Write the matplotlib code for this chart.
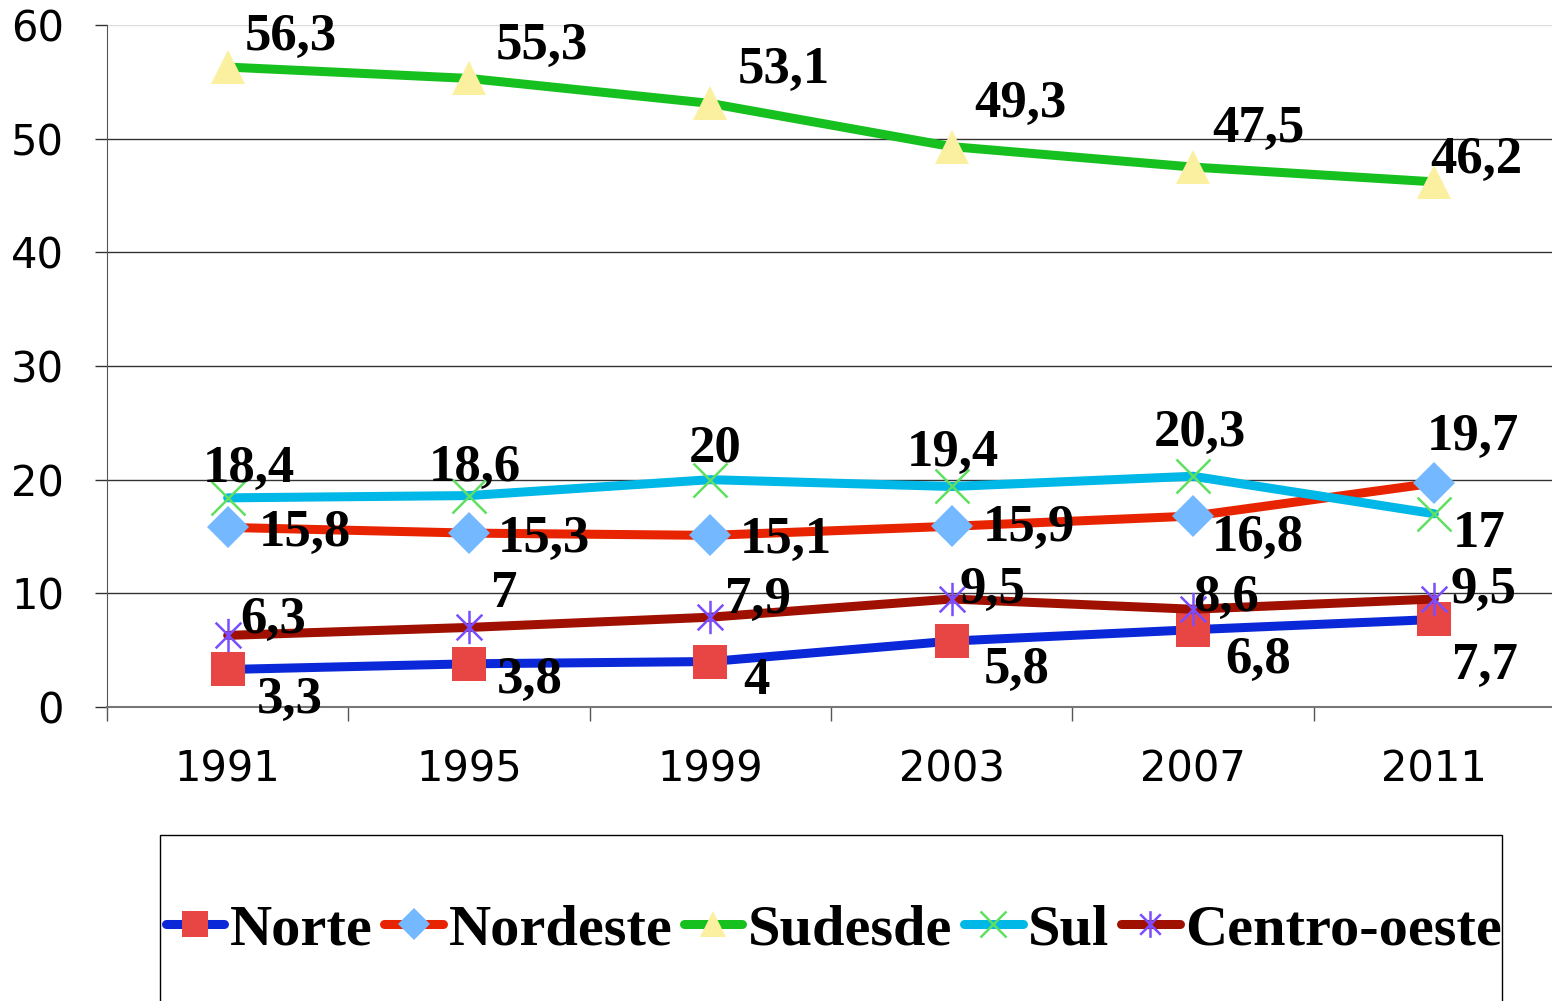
import matplotlib
matplotlib.use("Agg")
import matplotlib.pyplot as plt
from matplotlib.path import Path
from matplotlib.patches import Rectangle
import numpy as np

years = ["1991", "1995", "1999", "2003", "2007", "2011"]
series_names = ["Norte", "Nordeste", "Sudesde", "Sul", "Centro-oeste"]

norte = [3.3, 3.8, 4, 5.8, 6.8, 7.7]
nordeste = [15.8, 15.3, 15.1, 15.9, 16.8, 19.7]
sudeste = [56.3, 55.3, 53.1, 49.3, 47.5, 46.2]
sul = [18.4, 18.6, 20, 19.4, 20.3, 17]
centro_oeste = [6.3, 7, 7.9, 9.5, 8.6, 9.5]

# Excel-style star: an X with a vertical bar through it
star = Path([(-1, -1), (1, 1), (-1, 1), (1, -1), (0, -1.3), (0, 1.3)],
            [Path.MOVETO, Path.LINETO, Path.MOVETO, Path.LINETO, Path.MOVETO, Path.LINETO])

styles = [
    dict(color='#0A28D8', marker='s', mfc='#E84644', mec='#E84644', ms=24, mew=0),
    dict(color='#E82400', marker='D', mfc='#74B9FF', mec='#74B9FF', ms=21, mew=0),
    dict(color='#16C01E', marker='^', mfc='#FAF0A0', mec='#FAF0A0', ms=24, mew=0),
    dict(color='#00B8E8', marker='x', mfc='#60E060', mec='#60E060', ms=24, mew=1.8),
    dict(color='#A01000', marker=star, mfc='#7B4DFF', mec='#7B4DFF', ms=24, mew=1.8),
]

# label offsets in pixels (dx, dy up) for each point
label_offsets = [
    [(62, -30), (61, -16), (46, -19), (65, -29), (65, -30), (51, -47)],
    [(77, -6), (75, -6), (76, -5), (77, -2), (65, -22), (39, 46)],
    [(63, 30), (73, 32), (73, 33), (69, 43), (65, 38), (42, 22)],
    [(21, 29), (6, 28), (5, 31), (1, 34), (7, 43), (45, -20)],
    [(45, 15), (35, 33), (48, 17), (41, 9), (33, 11), (49, 9)],
]


def fmt(v):
    s = ('%g' % v)
    return s.replace('.', ',')


fig = plt.figure(figsize=(15.52, 10.01), dpi=100)
ax = fig.add_axes([107 / 1552, 1 - 707 / 1001, 1448 / 1552, 682 / 1001])

x = np.arange(len(years))
data = [norte, nordeste, sudeste, sul, centro_oeste]
handles = []
for i, (vals, st) in enumerate(zip(data, styles)):
    ln, = ax.plot(x, vals, lw=6.5, solid_capstyle='round', zorder=3 + i, label=series_names[i], **st)
    handles.append(ln)
    for xi, v, (dx, dy) in zip(x, vals, label_offsets[i]):
        ax.annotate(fmt(v), (xi, v), xytext=(dx, dy), textcoords='offset pixels',
                    ha='center', va='center', fontsize=38, fontweight='bold',
                    family='Liberation Serif', zorder=20)

ax.set_xlim(-0.5, 5.5)
ax.set_ylim(0, 60)
ax.set_yticks(range(0, 61, 10))
ax.set_xticks(x)
ax.set_xticklabels(years)
ax.set_xticks(np.arange(-0.5, 5.6, 1), minor=True)
ax.tick_params(axis='x', which='major', length=0, pad=30, labelsize=30)
ax.tick_params(axis='x', which='minor', length=10, width=1, color='#555555')
ax.tick_params(axis='y', length=9, width=1, pad=22, labelsize=30, color='#333333')

ax.grid(axis='y', color='#333333', lw=1)
ax.yaxis.get_gridlines()[-1].set_color('#dddddd')
for s in ['top', 'right']:
    ax.spines[s].set_visible(False)
ax.spines['left'].set_color('#555555')
ax.spines['bottom'].set_color('#777777')
ax.spines['bottom'].set_linewidth(1.5)
ax.set_axisbelow(True)

# legend box
fig.patches.append(Rectangle((160 / 1552, -0.01), 1342 / 1552, 1 - 835 / 1001 + 0.01,
                             transform=fig.transFigure, fill=False, ec='black', lw=1))
fig.legend(handles=handles, loc='center', bbox_to_anchor=(834 / 1552, 1 - 930 / 1001),
           ncol=5, frameon=False, handlelength=1.0, handletextpad=0.1, columnspacing=0.2,
           markerscale=0.8, prop={'family': 'Liberation Serif', 'weight': 'bold', 'size': 42})

fig.savefig('out.png', dpi=100)
